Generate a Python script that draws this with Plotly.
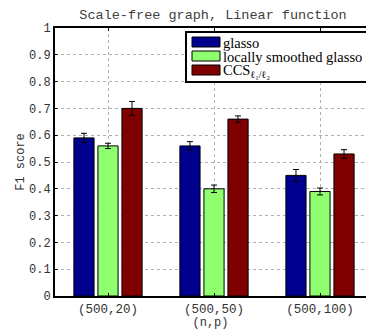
import plotly.graph_objects as go

# Settings (n, p) on the x axis
categories = ["(500,20)", "(500,50)", "(500,100)"]

# Mean F1 scores and their error half-widths
glasso = [0.59, 0.56, 0.45]
glasso_err = [0.017, 0.016, 0.022]
smoothed = [0.56, 0.40, 0.39]
smoothed_err = [0.010, 0.014, 0.013]
ccs = [0.70, 0.66, 0.53]
ccs_err = [0.026, 0.012, 0.016]

series_names = ["glasso", "locally smoothed glasso", "CCS<sub>ℓ₁/ℓ₂</sub>"]
series_colors = ["#00008F", "#8FFF70", "#800000"]

y_ticks = [0, 0.1, 0.2, 0.3, 0.4, 0.5, 0.6, 0.7, 0.8, 0.9, 1]
y_ticktext = ["0", "0.1", "0.2", "0.3", "0.4", "0.5", "0.6", "0.7", "0.8", "0.9", "1"]

mono = "Liberation Mono, Courier New, monospace"
serif = "Liberation Serif, Times New Roman, serif"

fig = go.Figure()
for name, vals, errs, col in zip(series_names,
                                 [glasso, smoothed, ccs],
                                 [glasso_err, smoothed_err, ccs_err],
                                 series_colors):
    fig.add_trace(go.Bar(
        x=categories, y=vals, name=name,
        marker=dict(color=col, line=dict(color="black", width=1)),
        error_y=dict(type="data", array=errs, color="black", thickness=1, width=3),
        showlegend=False,
    ))

# Boxed legend in the upper right, with wide colour swatches
W, H = 366, 330
L, T, B = 55, 28, 296


def px_x(v):
    return (v - L) / (W - L)


def px_y(v):
    return 1 - (v - T) / (B - T)


fig.add_shape(type="rect", xref="paper", yref="paper",
              x0=px_x(186), x1=px_x(372), y0=px_y(82), y1=px_y(32),
              line=dict(color="black", width=2), fillcolor="white", layer="above")
for i, (name, col) in enumerate(zip(series_names, series_colors)):
    yc = 42 + 14 * i
    fig.add_shape(type="rect", xref="paper", yref="paper",
                  x0=px_x(192), x1=px_x(220), y0=px_y(yc + 5), y1=px_y(yc - 5),
                  line=dict(color="black", width=1), fillcolor=col, layer="above")
    fig.add_annotation(xref="paper", yref="paper",
                       x=px_x(221), y=px_y(yc + 1),
                       text=name, showarrow=False, xanchor="left", yanchor="middle",
                       font=dict(family=serif, size=14.5, color="black"))

fig.update_layout(
    width=W, height=H,
    margin=dict(l=L, r=0, t=T, b=H - B),
    paper_bgcolor="white", plot_bgcolor="white",
    barmode="group", bargap=0.32, bargroupgap=0.16,
    title=dict(text="Scale-free graph, Linear function", x=0.582, xanchor="center",
               y=1 - 14 / H, yanchor="middle",
               font=dict(family=mono, size=13.5, color="#404040")),
    xaxis=dict(
        range=[-0.5, 2.434], showline=True, linecolor="black", linewidth=2,
        mirror="ticks", ticks="inside", ticklen=3, tickcolor="black",
        showgrid=True, gridcolor="#b0b0b0", griddash="dot", gridwidth=1,
        tickfont=dict(family=mono, size=12.5, color="#333333"),
        title=dict(text="(n,p)", standoff=1, font=dict(family=mono, size=12, color="#333333")),
    ),
    yaxis=dict(
        range=[0, 1], tickvals=y_ticks, ticktext=y_ticktext,
        showline=True, linecolor="black", linewidth=2, mirror=False,
        ticks="inside", ticklen=3, tickcolor="black",
        showgrid=True, gridcolor="#b0b0b0", griddash="dot", gridwidth=1,
        zeroline=False,
        tickfont=dict(family=mono, size=12, color="#333333"),
        title=dict(text="F1 score", standoff=2, font=dict(family=mono, size=12, color="#333333")),
    ),
)

fig.write_html("out.html")
